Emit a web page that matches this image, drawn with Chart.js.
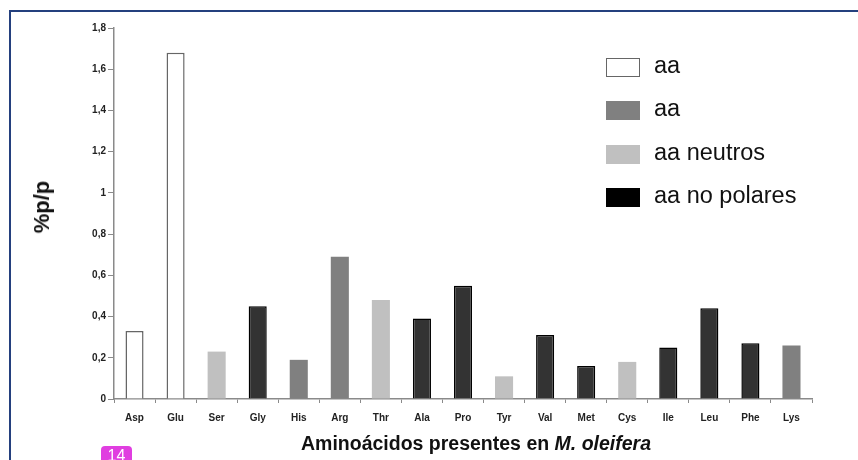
<!DOCTYPE html>
<html>
<head>
<meta charset="utf-8">
<script src="https://cdn.jsdelivr.net/npm/chart.js@4"></script>
<style>
  html, body { margin: 0; padding: 0; background: #fff; }
  body { width: 858px; height: 460px; position: relative; overflow: hidden; font-family: "Liberation Sans", Arial, sans-serif; }
  #wrap { position: absolute; left: 0; top: 0; width: 858px; height: 460px; }
  .frameTop { position: absolute; left: 9px; top: 10px; width: 849px; height: 2px; background: #24407e; }
  .frameLeft { position: absolute; left: 9px; top: 10px; width: 2px; height: 450px; background: #24407e; }
  #legend { position: absolute; left: 606px; top: 0; }
  .lg { position: absolute; left: 0; width: 240px; height: 24px; }
  .lg .box { position: absolute; left: 0; top: 2px; width: 34px; height: 19px; box-sizing: border-box; }
  .lg .txt { position: absolute; left: 48px; top: -4px; font-size: 23.5px; color: #111; white-space: nowrap; }
  #ytitle { position: absolute; left: 42px; top: 207px; transform: translate(-50%, -50%) rotate(-90deg); font-weight: bold; font-size: 22px; color: #111; white-space: nowrap; }
  #xtitle { position: absolute; left: 476px; top: 432px; transform: translateX(-50%); font-weight: bold; font-size: 19.5px; color: #111; white-space: nowrap; }
  #page { position: absolute; left: 101px; top: 446px; width: 31px; height: 20px; background: #e03ee0; border-radius: 4px; color: #fff; font-size: 16px; text-align: center; line-height: 20px; }
</style>
</head>
<body>
<div id="wrap"><canvas id="c" width="858" height="460"></canvas></div>
<div class="frameTop"></div>
<div class="frameLeft"></div>
<div id="legend"></div>
<div id="ytitle">%p/p</div>
<div id="xtitle">Aminoácidos presentes en <i>M. oleifera</i></div>
<div id="page">14</div>
<script>
const categories = ["Asp","Glu","Ser","Gly","His","Arg","Thr","Ala","Pro","Tyr","Val","Met","Cys","Ile","Leu","Phe","Lys"];
const values = [0.33,1.68,0.23,0.45,0.19,0.69,0.48,0.39,0.55,0.11,0.31,0.16,0.18,0.25,0.44,0.27,0.26];
// group index of each category: 0 = aa (white), 1 = aa (gray), 2 = aa neutros, 3 = aa no polares
const groupOf = [0,0,2,3,1,1,2,3,3,2,3,3,2,3,3,3,1];
const groupLabels = ["aa","aa","aa neutros","aa no polares"];
const groupFill = ["#ffffff","#808080","#c0c0c0","#333333"];
const groupBorder = ["#666666","#808080","#c0c0c0","#000000"];
const legendFill = ["#ffffff","#808080","#c0c0c0","#000000"];
const legendBorder = ["#666666","#808080","#c0c0c0","#000000"];
const groupBorderWidth = [1.5,0,0,1.5];
const yTicks = [0,0.2,0.4,0.6,0.8,1,1.2,1.4,1.6,1.8];

const datasets = groupLabels.map((lab, g) => ({
  label: lab,
  data: values.map((v, i) => groupOf[i] === g ? v : null),
  backgroundColor: groupFill[g],
  borderColor: groupBorder[g],
  borderWidth: groupBorderWidth[g],
  borderSkipped: 'bottom',
  grouped: false,
  barPercentage: 0.44,
  categoryPercentage: 1.0
}));

// HTML legend
const legendEl = document.getElementById('legend');
const rowCenters = [68,111,155,198];
groupLabels.forEach((lab, g) => {
  const row = document.createElement('div');
  row.className = 'lg';
  row.style.top = (rowCenters[g] - 12) + 'px';
  const b = document.createElement('div');
  b.className = 'box';
  b.style.background = legendFill[g];
  b.style.border = (g === 0 ? '1.5px solid ' : '1px solid ') + legendBorder[g];
  const t = document.createElement('div');
  t.className = 'txt';
  t.textContent = lab;
  row.appendChild(b); row.appendChild(t);
  legendEl.appendChild(row);
});

const axisColor = '#8a8a8a';
const tickFont = { family: '"Liberation Sans", Arial, sans-serif', size: 10, weight: 'bold' };

new Chart(document.getElementById('c'), {
  type: 'bar',
  data: { labels: categories, datasets },
  options: {
    responsive: false,
    animation: false,
    layout: { padding: { top: 28, right: 46, bottom: 0, left: 0 } },
    plugins: { legend: { display: false }, tooltip: { enabled: false } },
    scales: {
      x: {
        offset: true,
        grid: { drawOnChartArea: false, drawTicks: true, tickLength: 4, color: axisColor, offset: true },
        border: { color: axisColor, width: 1.5 },
        ticks: { font: tickFont, color: '#222', padding: 9, maxRotation: 0, autoSkip: false },
        afterFit: s => { s.height = 61; }
      },
      y: {
        min: 0, max: 1.8,
        afterBuildTicks: s => { s.ticks = yTicks.map(v => ({ value: v })); },
        grid: { drawOnChartArea: false, drawTicks: true, tickLength: 6, color: axisColor },
        border: { color: axisColor, width: 1.5 },
        ticks: {
          font: tickFont, color: '#222', padding: 2,
          callback: v => (Math.round(v * 10) / 10).toString().replace('.', ',')
        },
        afterFit: s => { s.width = 114; }
      }
    }
  }
});
</script>
</body>
</html>
